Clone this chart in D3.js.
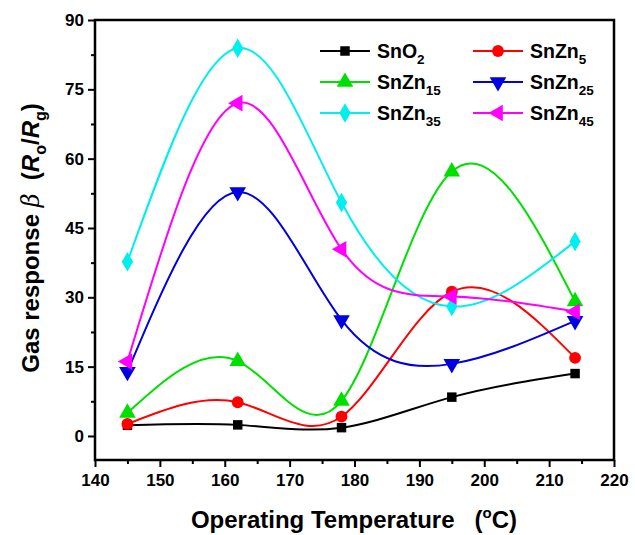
<!DOCTYPE html>
<html>
<head>
<meta charset="utf-8">
<script src="https://cdn.jsdelivr.net/npm/d3@7"></script>
<style>
  body { margin: 0; background: #fff; }
  text { font-family: 'Liberation Sans', Arial, sans-serif; font-weight: bold; }
</style>
</head>
<body>
<script>
var temps = [145, 162, 178, 195, 214]
var seriesNames = ['SnO2', 'SnZn5', 'SnZn15', 'SnZn25', 'SnZn35', 'SnZn45']
var sno2 = [2.3, 2.4, 1.8, 8.4, 13.5]
var snzn5 = [2.6, 7.3, 4.2, 31.2, 16.9]
var snzn15 = [5.0, 16.2, 7.6, 57.2, 29.1]
var snzn25 = [13.9, 52.8, 25.1, 15.6, 24.9]
var snzn35 = [37.7, 83.9, 50.5, 28.0, 42.1]
var snzn45 = [16.1, 72.0, 40.4, 30.2, 26.9]
var xTicks = [140, 150, 160, 170, 180, 190, 200, 210, 220]
var yTicks = [0, 15, 30, 45, 60, 75, 90]

var width = 635
var height = 535
var margin = { left: 95, right: 21, top: 20, bottom: 75 }

var seriesInfo = [
    { name: 'SnO', sub: '2', values: sno2, color: '#000000', shape: 'square' },
    { name: 'SnZn', sub: '5', values: snzn5, color: '#ff0000', shape: 'circle' },
    { name: 'SnZn', sub: '15', values: snzn15, color: '#00e000', shape: 'up' },
    { name: 'SnZn', sub: '25', values: snzn25, color: '#0000e0', shape: 'down' },
    { name: 'SnZn', sub: '35', values: snzn35, color: '#00eeee', shape: 'diamond' },
    { name: 'SnZn', sub: '45', values: snzn45, color: '#ff00ff', shape: 'left' }
]

var svg = d3.select('body').append('svg').attr('width', width).attr('height', height)

var x = d3.scaleLinear().domain([140, 220]).range([margin.left, width - margin.right])
var y = d3.scaleLinear().domain([-5.2, 90]).range([height - margin.bottom, margin.top])

// axes
var xAxis = d3.axisBottom(x).tickValues(xTicks).tickSize(7).tickPadding(7)
var xMinor = d3.axisBottom(x).tickValues(d3.range(145, 220, 10)).tickSize(4).tickFormat('')
var yAxis = d3.axisLeft(y).tickValues(yTicks).tickSize(7).tickPadding(4)
var yMinor = d3.axisLeft(y).tickValues(d3.range(7.5, 90, 15)).tickSize(4).tickFormat('')

function styleAxis(g) {
    g.select('.domain').remove()
    g.selectAll('line').attr('stroke', '#000').attr('stroke-width', 2)
    g.selectAll('text').attr('fill', '#000').style('font-size', '17px')
}

svg.append('g').attr('transform', 'translate(0,' + (height - margin.bottom) + ')').call(xAxis).call(styleAxis)
svg.append('g').attr('transform', 'translate(0,' + (height - margin.bottom) + ')').call(xMinor).call(styleAxis)
svg.append('g').attr('transform', 'translate(' + margin.left + ',0)').call(yAxis).call(styleAxis)
svg.append('g').attr('transform', 'translate(' + margin.left + ',0)').call(yMinor).call(styleAxis)

// frame
svg.append('rect')
    .attr('x', margin.left)
    .attr('y', margin.top)
    .attr('width', width - margin.left - margin.right)
    .attr('height', height - margin.top - margin.bottom)
    .attr('fill', 'none')
    .attr('stroke', '#000')
    .attr('stroke-width', 2.5)

var symbolFor = {
    square: d3.symbol().type(d3.symbolSquare).size(90),
    circle: d3.symbol().type(d3.symbolCircle).size(110),
    up: d3.symbol().type(d3.symbolTriangle).size(120),
    down: d3.symbol().type(d3.symbolTriangle).size(120),
    diamond: d3.symbol().type(d3.symbolDiamond).size(110),
    left: d3.symbol().type(d3.symbolTriangle).size(120)
}
var rotateFor = { square: 0, circle: 0, up: 0, down: 180, diamond: 0, left: -90 }

function drawMarker(g, s, px, py) {
    g.append('path')
        .attr('d', symbolFor[s.shape]())
        .attr('transform', 'translate(' + px + ',' + py + ') rotate(' + rotateFor[s.shape] + ')')
        .attr('fill', s.color)
}

var line = d3.line()
    .x(function (d, i) { return x(temps[i]) })
    .y(function (d) { return y(d) })
    .curve(d3.curveNatural)

seriesInfo.forEach(function (s) {
    var g = svg.append('g')
    g.append('path')
        .attr('d', line(s.values))
        .attr('fill', 'none')
        .attr('stroke', s.color)
        .attr('stroke-width', 2)
    s.values.forEach(function (v, i) {
        drawMarker(g, s, x(temps[i]), y(v))
    })
})

// legend
var legendCols = [320, 473]
var legendRows = [51, 82, 113]
seriesInfo.forEach(function (s, i) {
    var lx = legendCols[i % 2]
    var ly = legendRows[Math.floor(i / 2)]
    var g = svg.append('g')
    g.append('line')
        .attr('x1', lx).attr('x2', lx + 50)
        .attr('y1', ly).attr('y2', ly)
        .attr('stroke', s.color).attr('stroke-width', 2)
    drawMarker(g, s, lx + 25, ly)
    var t = g.append('text')
        .attr('x', lx + 57)
        .attr('y', ly + 7)
        .style('font-size', '19.5px')
    t.append('tspan').text(s.name)
    t.append('tspan').attr('dy', 6).style('font-size', '13.5px').text(s.sub)
})

// x axis title
var xt = svg.append('text')
    .attr('x', 354)
    .attr('y', 528)
    .attr('text-anchor', 'middle')
    .style('font-size', '24px')
xt.append('tspan').text('Operating Temperature\u00a0\u00a0\u00a0(')
xt.append('tspan').attr('dy', -10).style('font-size', '15px').text('o')
xt.append('tspan').attr('dy', 10).text('C)')

// y axis title
var yt = svg.append('text')
    .attr('transform', 'translate(39,238) rotate(-90)')
    .attr('text-anchor', 'middle')
    .style('font-size', '24px')
yt.append('tspan').text('Gas response ')
yt.append('tspan').style('font-style', 'italic').style('font-weight', 'normal').style('font-family', 'DejaVu Serif, serif').text('\u03b2')
yt.append('tspan').text('\u00a0\u00a0(')
yt.append('tspan').style('font-style', 'italic').text('R')
yt.append('tspan').attr('dy', 7).style('font-size', '16px').text('o')
yt.append('tspan').attr('dy', -7).text('/')
yt.append('tspan').style('font-style', 'italic').text('R')
yt.append('tspan').attr('dy', 7).style('font-size', '16px').text('g')
yt.append('tspan').attr('dy', -7).text(')')
</script>
</body>
</html>
